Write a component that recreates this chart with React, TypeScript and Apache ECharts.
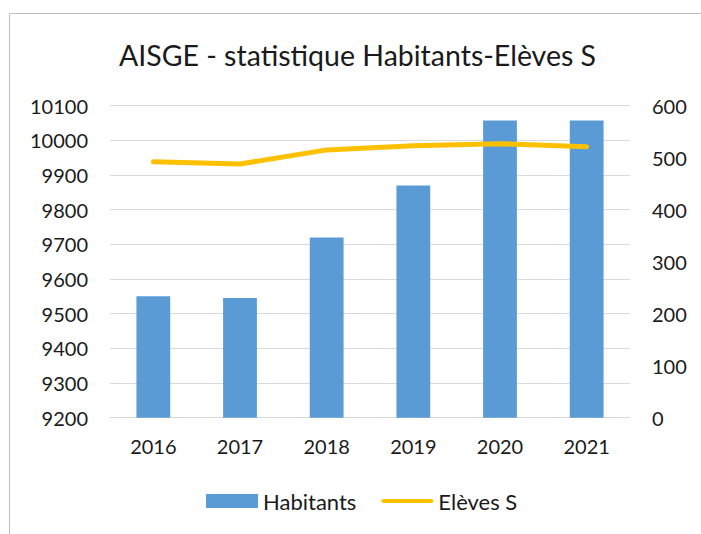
import React, { useEffect, useRef } from "react";
import * as echarts from "echarts";

const categories = ["2016", "2017", "2018", "2019", "2020", "2021"];
const habitants = [9550, 9545, 9720, 9870, 10057, 10057];
const eleves = [492, 488, 515, 523, 527, 521];
const leftTicks = { min: 9200, max: 10100, interval: 100 };
const rightTicks = { min: 0, max: 600, interval: 100 };
const titleText = "AISGE - statistique Habitants-Elèves S";

const FONT = "Lato";
const TEXT = "#1a1a1a";
const LINE_ICON =
  "path://M0,0 M52,14 M2,5 L50,5 A2,2 0 0 1 50,9 L2,9 A2,2 0 0 1 2,5 Z";

export default function App() {
  const ref = useRef<HTMLDivElement>(null);
  useEffect(() => {
    if (!ref.current) return;
    const chart = echarts.init(ref.current, undefined, { renderer: "svg" });
    const plain = (v: number) => String(v);
    chart.setOption({
      animation: false,
      backgroundColor: "#ffffff",
      textStyle: { fontFamily: FONT, color: TEXT },
      graphic: [
        {
          type: "rect",
          shape: { x: 9.5, y: 13.5, width: 900, height: 900 },
          style: { fill: "none", stroke: "#c0c0c0", lineWidth: 1 },
          silent: true,
          z: -10,
        },
        {
          type: "text",
          x: 357.5,
          y: 55,
          style: {
            text: titleText,
            fontFamily: FONT,
            fontSize: 28.5,
            fill: TEXT,
            textAlign: "center",
            textVerticalAlign: "middle",
          },
        },
      ],
      legend: {
        left: 206,
        top: 490,
        padding: 0,
        itemWidth: 52,
        itemHeight: 14,
        itemGap: 25,
        textStyle: { fontFamily: FONT, fontSize: 22, color: TEXT },
        data: [
          { name: "Habitants", icon: "rect", itemStyle: { color: "#5b9bd5" } },
          { name: "Elèves S", icon: LINE_ICON, itemStyle: { color: "#ffc000" } },
        ],
      },
      grid: { left: 110, right: 71, top: 105.7, bottom: 116.3, containLabel: false },
      xAxis: {
        type: "category",
        data: categories,
        axisLine: { lineStyle: { color: "#d9d9d9", width: 1 } },
        axisTick: { show: false },
        axisLabel: { margin: 18, fontFamily: FONT, fontSize: 20, color: TEXT },
      },
      yAxis: [
        {
          type: "value",
          min: leftTicks.min,
          max: leftTicks.max,
          interval: leftTicks.interval,
          axisLine: { show: false },
          axisTick: { show: false },
          splitLine: { lineStyle: { color: "#d9d9d9", width: 1 } },
          axisLabel: { margin: 22, fontFamily: FONT, fontSize: 20, color: TEXT, formatter: plain },
        },
        {
          type: "value",
          min: rightTicks.min,
          max: rightTicks.max,
          interval: rightTicks.interval,
          axisLine: { show: false },
          axisTick: { show: false },
          splitLine: { show: false },
          axisLabel: { margin: 22, fontFamily: FONT, fontSize: 20, color: TEXT, formatter: plain },
        },
      ],
      series: [
        {
          name: "Habitants",
          type: "bar",
          data: habitants,
          barWidth: "39%",
          itemStyle: { color: "#5b9bd5" },
          yAxisIndex: 0,
        },
        {
          name: "Elèves S",
          type: "line",
          data: eleves,
          yAxisIndex: 1,
          symbol: "none",
          itemStyle: { color: "#ffc000" },
          lineStyle: { color: "#ffc000", width: 5, cap: "round", join: "round" },
        },
      ],
    });
    return () => chart.dispose();
  }, []);
  return (
    <div
      ref={ref}
      style={{ position: "fixed", left: 0, top: 0, width: 701, height: 534 }}
    />
  );
}
